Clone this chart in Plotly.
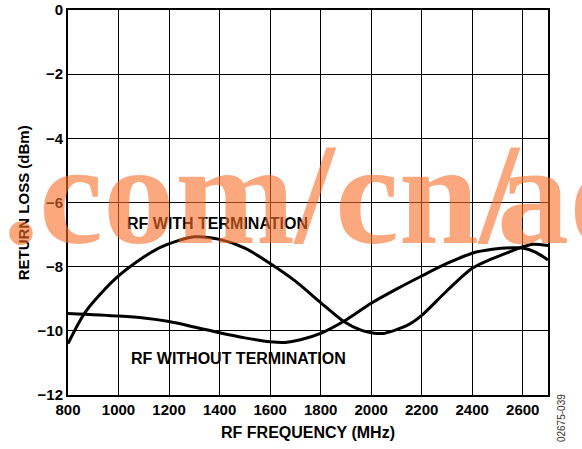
import plotly.graph_objects as go

# RF frequency points (MHz) and return loss (dBm)
freq_with = [800, 870, 990, 1100, 1170, 1300, 1400, 1500, 1600, 1700, 1800, 1890, 1960, 2000, 2050, 2150, 2200, 2300, 2400, 2480, 2560, 2600, 2640, 2700]
rl_with = [-10.4, -9.4, -8.36, -7.7, -7.38, -7.07, -7.15, -7.42, -7.9, -8.45, -9.12, -9.7, -9.98, -10.06, -10.08, -9.8, -9.52, -8.75, -8.05, -7.75, -7.5, -7.38, -7.3, -7.34]

freq_without = [800, 1000, 1100, 1200, 1300, 1400, 1500, 1600, 1660, 1720, 1800, 1890, 2000, 2100, 2200, 2300, 2400, 2480, 2560, 2600, 2650, 2700]
rl_without = [-9.46, -9.54, -9.6, -9.71, -9.88, -10.06, -10.22, -10.34, -10.36, -10.28, -10.08, -9.71, -9.14, -8.7, -8.29, -7.9, -7.58, -7.46, -7.41, -7.42, -7.55, -7.79]

x_ticks = [800, 1000, 1200, 1400, 1600, 1800, 2000, 2200, 2400, 2600]
y_ticks = [0, -2, -4, -6, -8, -10, -12]

tick_font = dict(family='Liberation Sans', size=15, color='black')
wm_font = dict(family='Liberation Serif', size=144, color='rgba(250,110,40,0.6)')

fig = go.Figure()

for xs, ys in [(freq_with, rl_with), (freq_without, rl_without)]:
    fig.add_trace(go.Scatter(x=xs, y=ys, mode='lines',
                             line=dict(color='black', width=3, shape='spline', smoothing=0.8),
                             showlegend=False, hoverinfo='skip'))

fig.add_annotation(x=1391, y=-6.64, text='<b>RF WITH TERMINATION</b>', showarrow=False,
                   font=dict(family='Liberation Sans', size=16, color='black'))
fig.add_annotation(x=1476, y=-10.85, text='<b>RF WITHOUT TERMINATION</b>', showarrow=False,
                   font=dict(family='Liberation Sans', size=16, color='black'))

# y axis title placed by hand
fig.add_annotation(xref='paper', yref='paper', x=-0.092, y=0.5, text='<b>RETURN LOSS (dBm)</b>', textangle=-90,
                   showarrow=False, xanchor='center', yanchor='middle', font=tick_font)

# figure code on the right edge
fig.add_annotation(xref='paper', yref='paper', x=1.027, y=-0.06, text='02675-039', textangle=-90,
                   showarrow=False, xanchor='center', yanchor='middle',
                   font=dict(family='Liberation Sans', size=10, color='#333'))

# watermark over the plot
fig.add_annotation(xref='paper', yref='paper', x=-0.14, y=0.309, text='<b>.com/cn/</b>',
                   showarrow=False, xanchor='left', yanchor='bottom', font=wm_font)
fig.add_annotation(xref='paper', yref='paper', x=0.89, y=0.309, text='<b>ad</b>',
                   showarrow=False, xanchor='left', yanchor='bottom', font=wm_font)

fig.update_xaxes(range=[800, 2700], tickvals=x_ticks, ticktext=['<b>%d</b>' % v for v in x_ticks],
                 showgrid=True, gridcolor='black', gridwidth=1, zeroline=False, automargin=False,
                 showline=True, linecolor='black', linewidth=2, mirror=True, ticks='', ticklen=0,
                 tickfont=tick_font,
                 title=dict(text='<b>RF FREQUENCY (MHz)</b>', font=dict(family='Liberation Sans', size=16, color='black'), standoff=10))
fig.update_yaxes(range=[-12, 0], tickvals=y_ticks, ticktext=['<b>%s</b>' % ('\u2212%d' % -v if v else '0') for v in y_ticks],
                 showgrid=True, gridcolor='black', gridwidth=1, zeroline=False, automargin=False,
                 showline=True, linecolor='black', linewidth=2, mirror=True, ticks='', ticklen=0,
                 tickfont=tick_font)

fig.update_layout(width=582, height=449, margin=dict(l=68, r=34, t=10, b=54),
                  plot_bgcolor='white', paper_bgcolor='white')

# drop the default page margin so the figure sits at the window corner
fig.write_html('out.html', config={'displayModeBar': False},
               post_script="document.body.style.margin='0';")
